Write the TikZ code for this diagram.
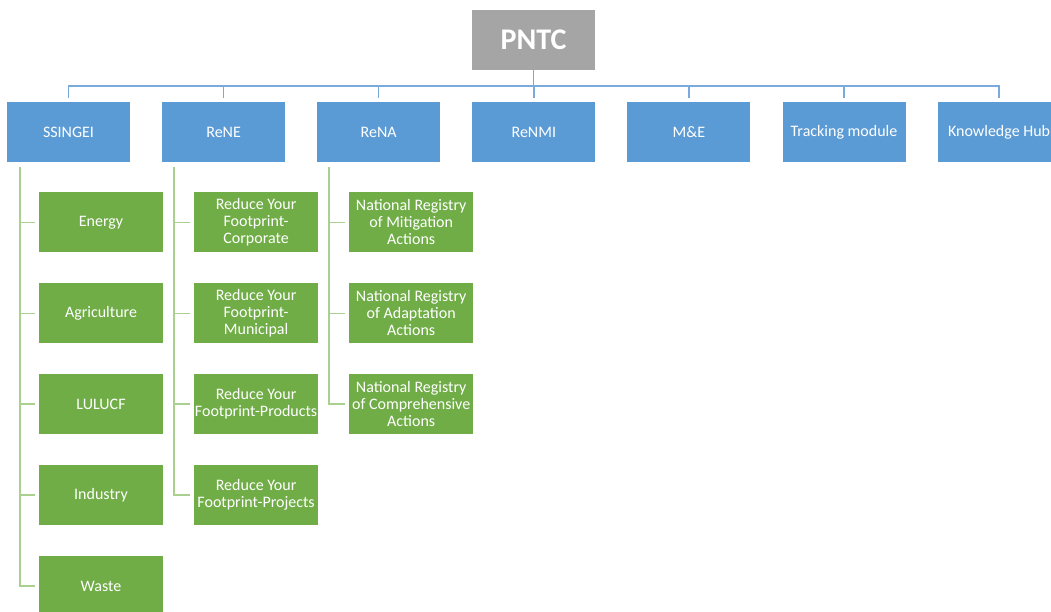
\documentclass[tikz,border=0pt]{standalone}
\usepackage{fontspec}
\setmainfont{Carlito}
\usetikzlibrary{positioning}
\definecolor{topgray}{HTML}{A5A5A5}
\definecolor{modblue}{HTML}{5B9BD5}
\definecolor{busblue}{HTML}{7AAADD}
\definecolor{leafgreen}{HTML}{70AD47}
\definecolor{leafline}{HTML}{A9D08E}
\tikzset{
topbox/.style={rectangle,fill=topgray,text=white,minimum width=123pt,minimum height=60pt,
  inner sep=0pt,font=\fontsize{30}{32}\selectfont\bfseries},
modbox/.style={rectangle,fill=modblue,text=white,minimum width=123pt,minimum height=60pt,
  inner sep=0pt,align=center,font=\fontsize{16}{17}\selectfont},
leafbox/.style={rectangle,fill=leafgreen,text=white,minimum width=124pt,minimum height=60pt,
  inner sep=0pt,align=center,font=\fontsize{16}{17}\selectfont},
busline/.style={draw=busblue,line width=1.5pt},
leafarm/.style={draw=leafline,line width=1.5pt}
}

\begin{document}
\begin{tikzpicture}[x=1pt,y=1pt,node distance=31.7pt]
\clip (0,0) rectangle (1051,-612);
\node[topbox] (pntc) at (533.5,-40) {PNTC};
% modules
\node[modbox] (ssingei) at (68.5,-132) {SSINGEI};
\node[modbox,right=of ssingei] (rene) {ReNE};
\node[modbox,right=of rene] (rena) {ReNA};
\node[modbox,right=of rena] (renmi) {ReNMI};
\node[modbox,right=of renmi] (me) {M\&E};
\node[modbox,right=of me] (tracking) {Tracking module};
\node[modbox,right=of tracking] (hub) {Knowledge Hub};
% SSINGEI sectors
\node[leafbox,below right=30pt and 32pt of ssingei.south west] (energy) {Energy};
\node[leafbox,below=30.5pt of energy] (agri) {Agriculture};
\node[leafbox,below=30.5pt of agri] (lulucf) {LULUCF};
\node[leafbox,below=30.5pt of lulucf] (industry) {Industry};
\node[leafbox,below=30.5pt of industry] (waste) {Waste};
% ReNE
\node[leafbox,below right=30pt and 32pt of rene.south west] (corp) {Reduce Your\\Footprint-\\Corporate};
\node[leafbox,below=30.5pt of corp] (muni) {Reduce Your\\Footprint-\\Municipal};
\node[leafbox,below=30.5pt of muni] (prod) {Reduce Your\\Footprint-Products};
\node[leafbox,below=30.5pt of prod] (proj) {Reduce Your\\Footprint-Projects};
% ReNA
\node[leafbox,below right=30pt and 32pt of rena.south west] (mitig) {National Registry\\of Mitigation\\Actions};
\node[leafbox,below=30.5pt of mitig] (adapt) {National Registry\\of Adaptation\\Actions};
\node[leafbox,below=30.5pt of adapt] (compr) {National Registry\\of Comprehensive\\Actions};

\draw[busline] (pntc.south) -- ++(0,-16) coordinate (bus);
\foreach \m in {ssingei,rene,rena,renmi,me,tracking,hub}
  \draw[busline,shorten >=4pt] (bus) -| (\m.north);

\draw[leafarm] ([xshift=13pt,yshift=-5pt]ssingei.south west) |- ([xshift=-4pt]waste.west);
\foreach \c in {energy,agri,lulucf,industry}
  \draw[leafarm] ([xshift=-4pt]\c.west) -- ++(-15,0);
\draw[leafarm] ([xshift=12pt,yshift=-5pt]rene.south west) |- ([xshift=-4pt]proj.west);
\foreach \c in {corp,muni,prod}
  \draw[leafarm] ([xshift=-4pt]\c.west) -- ++(-16,0);
\draw[leafarm] ([xshift=12pt,yshift=-5pt]rena.south west) |- ([xshift=-4pt]compr.west);
\foreach \c in {mitig,adapt}
  \draw[leafarm] ([xshift=-4pt]\c.west) -- ++(-16,0);
\end{tikzpicture}
\end{document}
